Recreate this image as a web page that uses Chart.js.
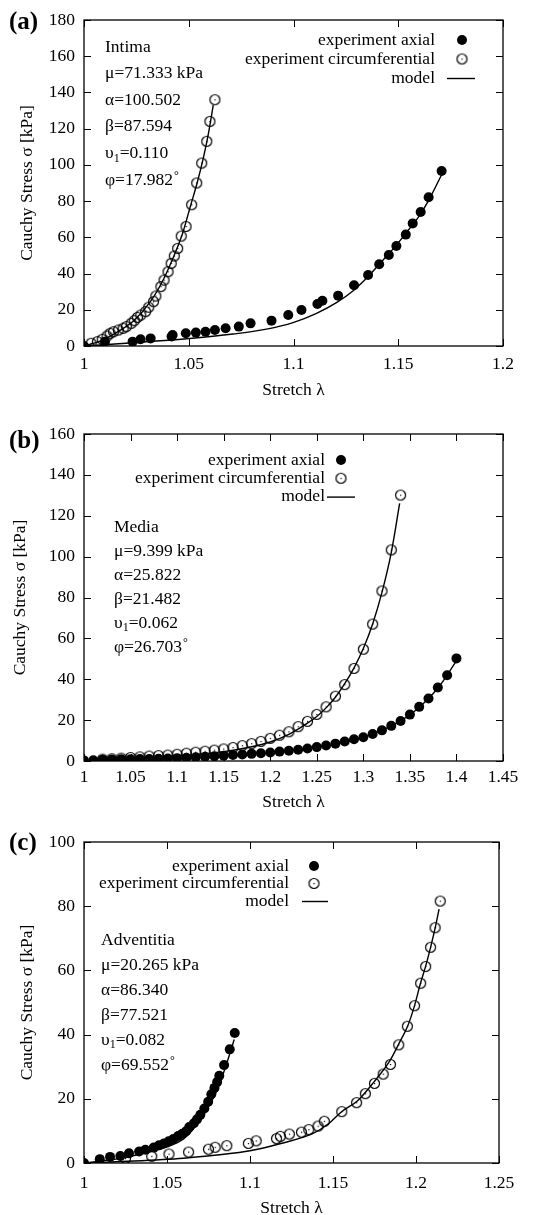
<!DOCTYPE html>
<html>
<head>
<meta charset="utf-8">
<script src="https://cdn.jsdelivr.net/npm/chart.js@4.4.1/dist/chart.umd.min.js"></script>
<style>
  body { margin: 0; background: #fff; }
  #wrap { position: relative; width: 540px; height: 1215px; }
  canvas { position: absolute; left: 0; }
</style>
</head>
<body>
<div id="wrap">
  <canvas id="chartA" width="540" height="400" style="top:0px"></canvas>
  <canvas id="chartB" width="540" height="415" style="top:400px"></canvas>
  <canvas id="chartC" width="540" height="400" style="top:815px"></canvas>
</div>
<script>
// ---- panel (a) intima ----
const aAxialX = [1.0, 1.010, 1.0232, 1.027, 1.0318, 1.0418, 1.0423, 1.0486, 1.0534, 1.058, 1.0625, 1.0676, 1.0739, 1.0795, 1.0895, 1.0975, 1.1038, 1.1114, 1.1138, 1.1213, 1.1289, 1.1356, 1.1409, 1.1455, 1.1491, 1.1536, 1.1569, 1.1607, 1.1645, 1.1707];
const aAxialY = [0, 2.4, 2.4, 3.7, 4.2, 5.2, 6.1, 7.0, 7.4, 7.9, 8.8, 9.8, 10.7, 12.5, 14.0, 17.1, 19.9, 23.2, 25.0, 27.8, 33.5, 39.2, 45.1, 50.2, 55.2, 61.5, 67.7, 74.0, 82.1, 96.6];
const aCircX = [1.0034, 1.0064, 1.0087, 1.011, 1.0125, 1.0141, 1.0164, 1.0187, 1.0202, 1.0225, 1.024, 1.0255, 1.0271, 1.0294, 1.0309, 1.0332, 1.0343, 1.0367, 1.0382, 1.0401, 1.0416, 1.0431, 1.0447, 1.0464, 1.0487, 1.0514, 1.0538, 1.0562, 1.0586, 1.0601, 1.0625];
const aCircY = [1.5, 2.4, 3.7, 5.5, 7.0, 7.9, 8.8, 9.8, 10.7, 12.5, 14.0, 15.8, 17.1, 19.0, 21.4, 24.5, 27.6, 32.8, 36.4, 41.0, 45.6, 49.7, 53.9, 60.7, 66.0, 78.0, 90.0, 101.0, 113.0, 124.0, 136.0];
const aModelAxX = [1.0, 1.0235, 1.049, 1.0712, 1.0871, 1.0998, 1.111, 1.1205, 1.1285, 1.1348, 1.1428, 1.1491, 1.1555, 1.1603, 1.165, 1.1714];
const aModelAxY = [0, 1.8, 4.0, 6.6, 9.3, 12.9, 18.0, 23.9, 30.5, 37.4, 47.5, 55.7, 65.0, 72.3, 81.5, 96.2];
const aModelCiX = [1.0, 1.008, 1.016, 1.024, 1.032, 1.038, 1.043, 1.047, 1.051, 1.054, 1.057, 1.0595, 1.0617];
const aModelCiY = [0, 2.8, 7.8, 14.2, 25.0, 37.0, 50.0, 62.0, 78.0, 90.0, 104.0, 118.0, 133.0];
const xTicksA = [1, 1.05, 1.1, 1.15, 1.2];
const yTicksA = [0, 20, 40, 60, 80, 100, 120, 140, 160, 180];
const paramsA = ["Intima", "μ=71.333 kPa", "α=100.502", "β=87.594", "υ_1=0.110", "φ=17.982°"];

// ---- panel (b) media ----
const bAxialX = [1.00, 1.01, 1.02, 1.03, 1.04, 1.05, 1.06, 1.07, 1.08, 1.09, 1.10, 1.11, 1.12, 1.13, 1.14, 1.15, 1.16, 1.17, 1.18, 1.19, 1.20, 1.21, 1.22, 1.23, 1.24, 1.25, 1.26, 1.27, 1.28, 1.29, 1.30, 1.31, 1.32, 1.33, 1.34, 1.35, 1.36, 1.37, 1.38, 1.39, 1.40];
const bAxialY = [0.3, 0.4, 0.6, 0.7, 0.8, 0.9, 1.0, 1.0, 1.1, 1.2, 1.4, 1.6, 1.8, 2.1, 2.3, 2.6, 2.9, 3.2, 3.5, 3.8, 4.2, 4.6, 5.0, 5.5, 6.1, 6.8, 7.6, 8.5, 9.5, 10.6, 11.6, 13.2, 15.0, 17.2, 19.6, 22.7, 26.5, 30.6, 36.0, 42.0, 50.2];
const bCircX = [1.02, 1.03, 1.04, 1.05, 1.06, 1.07, 1.08, 1.09, 1.10, 1.11, 1.12, 1.13, 1.14, 1.15, 1.16, 1.17, 1.18, 1.19, 1.20, 1.21, 1.22, 1.23, 1.24, 1.25, 1.26, 1.27, 1.28, 1.29, 1.30, 1.31, 1.32, 1.33, 1.34];
const bCircY = [0.9, 1.1, 1.4, 1.7, 2.0, 2.4, 2.6, 2.9, 3.3, 3.8, 4.3, 4.8, 5.3, 5.9, 6.6, 7.5, 8.5, 9.6, 11.1, 12.6, 14.3, 16.8, 19.4, 22.8, 26.5, 31.7, 37.4, 45.3, 54.7, 67.0, 83.2, 103.3, 130.1];
const bModelAxX = [1.0, 1.05, 1.10, 1.15, 1.20, 1.25, 1.28, 1.30, 1.32, 1.34, 1.36, 1.38, 1.40];
const bModelAxY = [0, 0.6, 1.3, 2.5, 4.2, 6.8, 9.3, 11.6, 15.0, 19.6, 26.2, 35.6, 49.0];
const bModelCiX = [1.0, 1.05, 1.10, 1.15, 1.18, 1.20, 1.22, 1.24, 1.25, 1.26, 1.27, 1.28, 1.29, 1.30, 1.31, 1.32, 1.33, 1.339];
const bModelCiY = [0, 1.2, 2.5, 4.6, 7.0, 9.3, 13.0, 18.5, 21.8, 26.0, 31.2, 37.8, 45.6, 55.0, 67.0, 82.5, 102.0, 126.0];
const xTicksB = [1, 1.05, 1.1, 1.15, 1.2, 1.25, 1.3, 1.35, 1.4, 1.45];
const yTicksB = [0, 20, 40, 60, 80, 100, 120, 140, 160];
const paramsB = ["Media", "μ=9.399 kPa", "α=25.822", "β=21.482", "υ_1=0.062", "φ=26.703°"];

// ---- panel (c) adventitia ----
const cAxialX = [1.0, 1.0095, 1.0157, 1.0219, 1.0271, 1.0332, 1.037, 1.042, 1.0452, 1.0481, 1.051, 1.0538, 1.0567, 1.0592, 1.0615, 1.0634, 1.0662, 1.0681, 1.0701, 1.0725, 1.0748, 1.0767, 1.0786, 1.0802, 1.0815, 1.0844, 1.0878, 1.0908];
const cAxialY = [0, 1.2, 1.9, 2.2, 3.0, 3.6, 4.1, 4.8, 5.5, 6.1, 6.8, 7.5, 8.4, 9.1, 9.9, 11.2, 12.4, 13.6, 15.0, 17.0, 19.1, 21.4, 23.4, 25.2, 27.2, 30.5, 35.4, 40.5];
const cCircX = [1.025, 1.0408, 1.0512, 1.063, 1.075, 1.079, 1.086, 1.099, 1.1037, 1.116, 1.1183, 1.1237, 1.131, 1.1354, 1.141, 1.1448, 1.1553, 1.1642, 1.1695, 1.175, 1.1802, 1.1846, 1.1896, 1.1948, 1.1991, 1.2028, 1.2058, 1.2088, 1.2115, 1.2146];
const cCircY = [1.4, 2.1, 2.8, 3.4, 4.3, 4.9, 5.4, 6.1, 6.9, 7.6, 8.3, 9.0, 9.6, 10.4, 11.5, 13.0, 16.0, 18.8, 21.6, 24.8, 27.7, 30.7, 36.8, 42.6, 49.0, 56.0, 61.2, 67.2, 73.3, 81.6];
const cModelAxX = [1.0, 1.02, 1.04, 1.05, 1.06, 1.065, 1.07, 1.075, 1.08, 1.085, 1.0905];
const cModelAxY = [0, 1.3, 3.5, 5.0, 7.5, 10.0, 13.5, 17.5, 22.5, 29.5, 38.5];
const cModelCiX = [1.0, 1.03, 1.06, 1.08, 1.10, 1.118, 1.138, 1.1475, 1.155, 1.165, 1.1746, 1.1843, 1.19, 1.195, 1.199, 1.2027, 1.2057, 1.2086, 1.2114, 1.2139];
const cModelCiY = [0, 0.6, 1.5, 2.5, 3.8, 6.0, 9.2, 12.3, 15.9, 19.5, 25.2, 31.9, 37.5, 42.7, 48.8, 56.0, 61.1, 66.8, 72.9, 79.1];
const xTicksC = [1, 1.05, 1.1, 1.15, 1.2, 1.25];
const yTicksC = [0, 20, 40, 60, 80, 100];
const paramsC = ["Adventitia", "μ=20.265 kPa", "α=86.340", "β=77.521", "υ_1=0.082", "φ=69.552°"];

const legendLabels = ["experiment axial", "experiment circumferential", "model"];

const SERIF = "'Liberation Serif', 'DejaVu Serif', serif";
const FS = 17.5;
Chart.defaults.font.family = SERIF;
Chart.defaults.font.size = FS;
Chart.defaults.color = "#000";

const pts = (xs, ys) => xs.map((x, i) => ({ x: x, y: ys[i] }));

// open circle with a dot in the middle (gnuplot style)
const openCircle = (() => {
  const c = document.createElement("canvas");
  c.width = 13;
  c.height = 13;
  const g = c.getContext("2d");
  g.strokeStyle = "#000";
  g.lineWidth = 1.2;
  g.beginPath();
  g.arc(6.5, 6.5, 5, 0, Math.PI * 2);
  g.stroke();
  g.fillStyle = "#000";
  g.fillRect(6, 6, 1.2, 1.2);
  return c;
})();

// frame with inward ticks on all four sides
const framePlugin = {
  id: "frame",
  afterDraw(chart) {
    const { ctx, chartArea: a, scales } = chart;
    const tl = 7;
    ctx.save();
    ctx.strokeStyle = "#000";
    ctx.lineWidth = 1.3;
    ctx.strokeRect(a.left, a.top, a.right - a.left, a.bottom - a.top);
    ctx.lineWidth = 1;
    ctx.beginPath();
    scales.x.ticks.forEach((t) => {
      const px = Math.round(scales.x.getPixelForValue(t.value)) + 0.5;
      ctx.moveTo(px, a.bottom);
      ctx.lineTo(px, a.bottom - tl);
      ctx.moveTo(px, a.top);
      ctx.lineTo(px, a.top + tl);
    });
    scales.y.ticks.forEach((t) => {
      const py = Math.round(scales.y.getPixelForValue(t.value)) + 0.5;
      ctx.moveTo(a.left, py);
      ctx.lineTo(a.left + tl, py);
      ctx.moveTo(a.right, py);
      ctx.lineTo(a.right - tl, py);
    });
    ctx.stroke();
    ctx.restore();
  },
};

// panel letter, parameter block and legend
const panelTextPlugin = {
  id: "panelText",
  afterDraw(chart, args, o) {
    const ctx = chart.ctx;
    ctx.save();
    ctx.fillStyle = "#000";
    ctx.textBaseline = "middle";

    ctx.font = "bold 25px " + SERIF;
    ctx.textAlign = "left";
    ctx.fillText(o.label, 9, o.labelY);

    o.params.forEach((line, i) => {
      const y = o.paramY + i * o.paramStep;
      let x = o.paramX;
      ctx.font = FS + "px " + SERIF;
      let main = line;
      let deg = false;
      if (main.endsWith("°")) {
        deg = true;
        main = main.slice(0, -1);
      }
      const parts = main.split("_");
      ctx.fillText(parts[0], x, y);
      x += ctx.measureText(parts[0]).width;
      if (parts.length > 1) {
        ctx.font = "12px " + SERIF;
        ctx.fillText(parts[1][0], x, y + 5);
        x += ctx.measureText(parts[1][0]).width;
        ctx.font = FS + "px " + SERIF;
        ctx.fillText(parts[1].slice(1), x, y);
        x += ctx.measureText(parts[1].slice(1)).width;
      }
      if (deg) {
        ctx.font = "12px " + SERIF;
        ctx.fillText("°", x + 1, y - 4);
      }
    });

    ctx.font = FS + "px " + SERIF;
    ctx.textAlign = "right";
    legendLabels.forEach((txt, i) => {
      const y = o.legendY + i * o.legendStep;
      ctx.fillText(txt, o.legendRight, y);
      if (i === 0) {
        ctx.beginPath();
        ctx.arc(o.symbolX, y, 5, 0, Math.PI * 2);
        ctx.fill();
      } else if (i === 1) {
        ctx.drawImage(openCircle, o.symbolX - 6.5, y - 6.5);
      } else {
        ctx.lineWidth = 1.4;
        ctx.beginPath();
        ctx.moveTo(o.lineX0, y + 0.5);
        ctx.lineTo(o.lineX1, y + 0.5);
        ctx.stroke();
      }
    });
    ctx.restore();
  },
};

Chart.register(framePlugin, panelTextPlugin);

function makeChart(id, cfg) {
  const canvasH = document.getElementById(id).height;
  const lineDs = (data) => ({
    data: data,
    showLine: true,
    pointRadius: 0,
    borderColor: "#000",
    borderWidth: 1.4,
    cubicInterpolationMode: "monotone",
  });
  return new Chart(document.getElementById(id), {
    type: "scatter",
    data: {
      datasets: [
        { data: pts(cfg.axX, cfg.axY), pointStyle: "circle", pointRadius: 5, backgroundColor: "#000", borderWidth: 0 },
        { data: pts(cfg.ciX, cfg.ciY), pointStyle: openCircle, pointRadius: 5 },
        lineDs(pts(cfg.mAxX, cfg.mAxY)),
        lineDs(pts(cfg.mCiX, cfg.mCiY)),
      ],
    },
    options: {
      responsive: false,
      animation: false,
      events: [],
      layout: { padding: { top: cfg.top, right: 540 - cfg.right, bottom: 0, left: 0 } },
      plugins: {
        legend: { display: false },
        tooltip: { enabled: false },
        panelText: cfg.text,
      },
      scales: {
        x: {
          type: "linear",
          min: cfg.xTicks[0],
          max: cfg.xTicks[cfg.xTicks.length - 1],
          afterBuildTicks: (s) => { s.ticks = cfg.xTicks.map((v) => ({ value: v })); },
          afterFit: (s) => { s.height = canvasH - cfg.bottom; },
          grid: { display: false, drawTicks: false },
          border: { display: false },
          ticks: { padding: cfg.xTickPad, autoSkip: false, maxRotation: 0, callback: (v) => String(v) },
          title: {
            display: true,
            text: "Stretch λ",
            font: { size: FS, lineHeight: 1 },
            padding: { top: 0, bottom: cfg.xTitlePad },
          },
        },
        y: {
          type: "linear",
          min: cfg.yTicks[0],
          max: cfg.yTicks[cfg.yTicks.length - 1],
          afterBuildTicks: (s) => { s.ticks = cfg.yTicks.map((v) => ({ value: v })); },
          afterFit: (s) => { s.width = cfg.left; },
          grid: { display: false, drawTicks: false },
          border: { display: false },
          ticks: { padding: 9, autoSkip: false, callback: (v) => String(v) },
          title: {
            display: true,
            text: "Cauchy Stress σ [kPa]",
            font: { size: FS, lineHeight: 1 },
            padding: { top: cfg.yTitlePad, bottom: 0 },
          },
        },
      },
    },
  });
}

makeChart("chartA", {
  axX: aAxialX, axY: aAxialY, ciX: aCircX, ciY: aCircY,
  mAxX: aModelAxX, mAxY: aModelAxY, mCiX: aModelCiX, mCiY: aModelCiY,
  xTicks: xTicksA, yTicks: yTicksA,
  left: 84, right: 503, top: 20, bottom: 346,
  xTickPad: 8, xTitlePad: 1, yTitlePad: 19,
  text: {
    label: "(a)", labelY: 23, params: paramsA,
    paramX: 105, paramY: 47, paramStep: 26.6,
    legendRight: 435, legendY: 40, legendStep: 19, symbolX: 462, lineX0: 447, lineX1: 475,
  },
});

makeChart("chartB", {
  axX: bAxialX, axY: bAxialY, ciX: bCircX, ciY: bCircY,
  mAxX: bModelAxX, mAxY: bModelAxY, mCiX: bModelCiX, mCiY: bModelCiY,
  xTicks: xTicksB, yTicks: yTicksB,
  left: 84, right: 503, top: 34, bottom: 361,
  xTickPad: 6, xTitlePad: 4, yTitlePad: 12,
  text: {
    label: "(b)", labelY: 42, params: paramsB,
    paramX: 114, paramY: 127, paramStep: 24,
    legendRight: 325, legendY: 60, legendStep: 18.3, symbolX: 341, lineX0: 327, lineX1: 355,
  },
});

makeChart("chartC", {
  axX: cAxialX, axY: cAxialY, ciX: cCircX, ciY: cCircY,
  mAxX: cModelAxX, mAxY: cModelAxY, mCiX: cModelCiX, mCiY: cModelCiY,
  xTicks: xTicksC, yTicks: yTicksC,
  left: 84, right: 499, top: 27, bottom: 348,
  xTickPad: 9.5, xTitlePad: -2, yTitlePad: 19,
  text: {
    label: "(c)", labelY: 29, params: paramsC,
    paramX: 101, paramY: 125, paramStep: 25,
    legendRight: 289, legendY: 51, legendStep: 17.5, symbolX: 314, lineX0: 302, lineX1: 328,
  },
});
</script>
</body>
</html>
